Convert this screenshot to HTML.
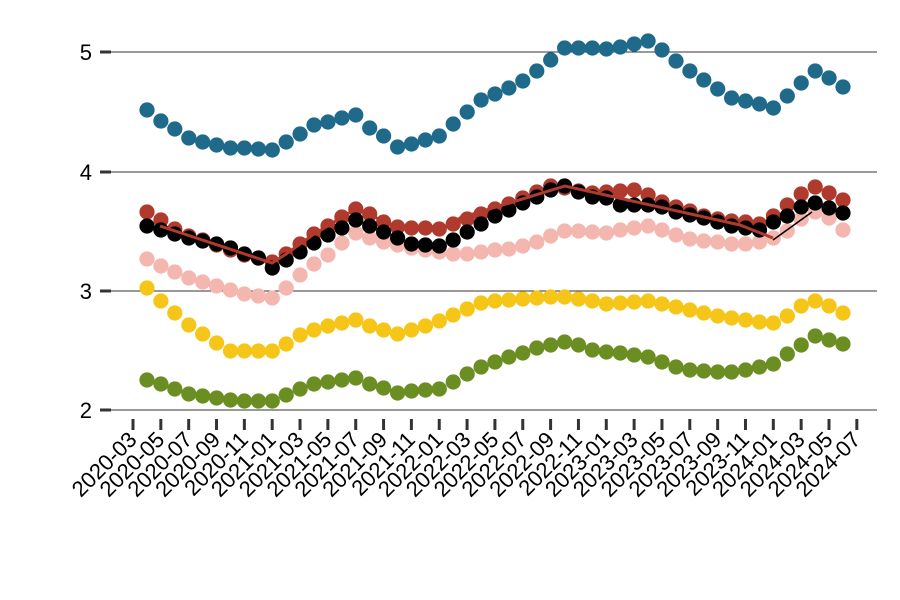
<!DOCTYPE html>
<html><head><meta charset="utf-8"><style>
html,body{margin:0;padding:0;background:#fff;width:900px;height:600px;overflow:hidden}
svg{display:block;font-family:"Liberation Sans",sans-serif}
</style></head><body>
<svg id="c" width="900" height="600" xmlns="http://www.w3.org/2000/svg"></svg>
<script>
const s=document.getElementById('c');let h='';
[[52,'5'],[172,'4'],[291,'3'],[410,'2']].forEach(([y,t])=>{
h+=`<line x1="110" x2="877" y1="${y}" y2="${y}" stroke="#333" stroke-width="1"/>`;
h+=`<line x1="100" x2="111" y1="${y}" y2="${y}" stroke="#333" stroke-width="3"/>`;
h+=`<text x="92" y="${y+8}" font-size="22" text-anchor="end">${t}</text>`;});
const labs=[];for(let i=0;i<27;i++){const m=3+2*i;const yr=2020+Math.floor((m-1)/12);const mo=((m-1)%12)+1;labs.push(yr+'-'+String(mo).padStart(2,'0'));}
labs.forEach((l,i)=>{const x=133+i*27.84;
h+=`<line x1="${x}" x2="${x}" y1="419" y2="430" stroke="#333" stroke-width="3"/>`;
h+=`<text transform="translate(${x+5},${441}) rotate(-45)" font-size="22" text-anchor="end">${l}</text>`;});
const X=i=>147+13.92*i;
const S={
pink:["#f4b7b0",[259,266,272,278,282,286,290,294,296,298,288,275,264,255,243,233,238,242,245,248,250,252,254,254,252,250,249,246,242,236,231,231,232,233,230,228,226,230,235,239,241,242,244,244,242,238,231,219,212,218,230]],
green:["#6b8e23",[380,384,389,394,396,398,400,401,401,401,395,389,384,382,380,378,384,388,393,391,390,389,382,374,367,362,357,353,348,345,342,345,350,352,353,355,357,362,367,370,371,372,372,370,367,364,354,345,336,340,344]],
yellow:["#f5c518",[288,301,313,325,334,343,351,351,351,351,344,335,330,326,323,320,326,330,334,330,326,321,315,309,303,301,300,299,298,297,297,299,301,304,303,302,301,304,307,310,313,316,318,320,322,323,316,306,301,306,313]],
blue:["#1f6a8a",[110,121,129,138,142,145,148,148,149,150,142,134,125,122,118,115,128,136,147,144,140,136,124,112,100,94,88,81,71,60,48,48,48,49,47,44,41,50,61,71,80,89,98,101,104,108,96,83,71,78,87]],
red:["#b03a2e",[212,220,229,236,240,245,250,255,258,262,254,244,234,226,217,209,214,222,227,228,228,229,224,219,214,209,204,198,192,186,188,191,193,192,191,190,195,202,207,211,216,219,221,222,224,216,205,194,187,193,200]],
black:["#000",[226,230,234,238,241,244,248,254,258,268,260,252,243,235,228,220,226,232,238,244,245,246,240,232,224,216,210,203,197,190,186,192,197,198,205,205,205,207,212,215,218,222,226,228,230,222,216,207,203,208,213]]};
h+=`<polyline points="365,237 400,246 435,250" fill="none" stroke="#000" stroke-width="2"/>`;
for(const k of ['pink','green','yellow','blue','red','black']){const [c,d]=S[k];d.forEach((y,i)=>{h+=`<circle cx="${X(i).toFixed(1)}" cy="${y}" r="7.6" fill="${c}"/>`;});}
let pts='160,226 272,263 ';const R=S.red[1];for(let i=10;i<=22;i++)pts+=`${X(i).toFixed(1)},${R[i]} `;
pts+='460,218 565,186 740,225 773,238';
h+=`<polyline points="${pts}" fill="none" stroke="#b03a2e" stroke-width="3"/>`;
h+=`<line x1="773" y1="240" x2="812" y2="212" stroke="#000" stroke-width="1.5"/>`;
s.innerHTML=h;
</script>
</body></html>
